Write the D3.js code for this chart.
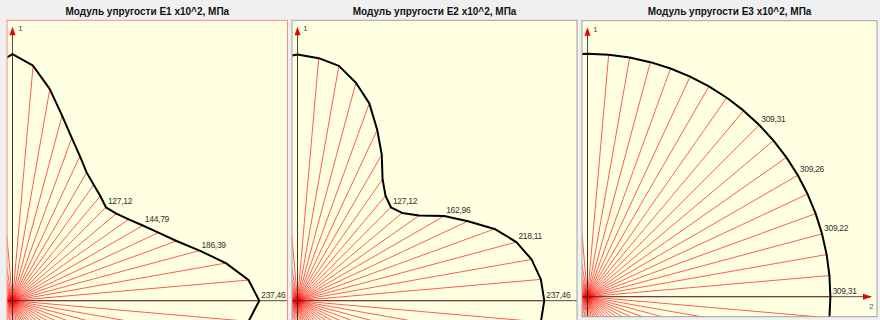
<!DOCTYPE html>
<html>
<head>
<meta charset="utf-8">
<script src="https://cdn.jsdelivr.net/npm/d3@7"></script>
<style>
  html, body { margin: 0; padding: 0; background: #f0f0f0; }
  svg { display: block; }
</style>
</head>
<body>
<svg id="chart" width="880" height="320"></svg>
<script>
// directions in degrees from axis 2 towards axis 1 (one quadrant, the rest is mirrored)
const angles = [0, 5, 10, 15, 20, 25, 30, 35, 40, 45, 50, 55, 60, 65, 70, 75, 80, 85, 90];

// elastic modulus x10^2, MPa, read per direction
const e1 = [237.46, 228.0, 208.5, 186.39, 168.0, 155.0, 144.79, 136.5, 130.5, 127.12,
            131.5, 136.2, 142.6, 153.5, 166.7, 184.4, 206.8, 227.0, 237.2];
const e2 = [237.46, 235.1, 228.7, 218.11, 201.8, 181.0, 162.96, 142.9, 131.4, 127.12,
            131.8, 142.7, 162.2, 181.5, 202.1, 217.2, 229.5, 234.3, 237.0];
const e3 = [309.31, 309.29, 309.25, 309.22, 309.22, 309.24, 309.26, 309.28, 309.30, 309.31,
            309.30, 309.28, 309.26, 309.24, 309.22, 309.22, 309.25, 309.29, 309.31];

const titles = [
    'Модуль упругости E1 x10^2, МПа',
    'Модуль упругости E2 x10^2, МПа',
    'Модуль упругости E3 x10^2, МПа'
];
const labelAngles = [0, 15, 30, 45];
const axisLabels = ['1', '2'];

const panels = [
    {values: e1, x0: 7, x1: 287.5, y0: 20.3, y1: 320.7, border: '#ff8a8a', arrowX: false},
    {values: e2, x0: 292, x1: 577, y0: 20.3, y1: 320.7, border: '#a0a0a0', arrowX: false},
    {values: e3, x0: 582, x1: 877, y0: 20.7, y1: 316.7, border: '#a0a0a0', arrowX: true}
];

const svg = d3.select('#chart');
const rad = (deg) => deg * Math.PI / 180;
const fmt = (v) => v.toFixed(2).replace('.', ',');

panels.forEach((p, i) => {
    // title above the plot
    svg.append('text')
        .text(titles[i])
        .attr('x', (p.x0 + p.x1) / 2)
        .attr('y', 15)
        .attr('text-anchor', 'middle')
        .style('font-family', '"Liberation Sans", Arial, sans-serif')
        .style('font-weight', 'bold')
        .style('font-size', '10px')
        .style('fill', '#111');

    svg.append('rect')
        .attr('x', p.x0).attr('y', p.y0)
        .attr('width', p.x1 - p.x0).attr('height', p.y1 - p.y0)
        .attr('fill', '#ffffe1')
        .attr('stroke', p.border)
        .attr('stroke-width', 1);

    const clipId = 'clip' + i;
    svg.append('clipPath').attr('id', clipId)
        .append('rect')
        .attr('x', p.x0 + 0.5).attr('y', p.y0 + 0.5)
        .attr('width', p.x1 - p.x0 - 1).attr('height', p.y1 - p.y0 - 1);

    const ox = p.x0 + 5.5;
    const oy = p.y1 - 20;
    const r = d3.scaleLinear()
        .domain([0, d3.max(p.values)])
        .range([0, 0.88 * (oy - p.y0)]);

    // whole turn: mirror the quadrant about both axes
    const full = [];
    for (let a = 0; a < 360; a += 5) {
        let b = a % 180;
        if (b > 90) b = 180 - b;
        full.push({angle: a, value: p.values[angles.indexOf(b)]});
    }
    const polar = (d) => d3.pointRadial(Math.PI / 2 - rad(d.angle), r(d.value));

    const g = svg.append('g')
        .attr('clip-path', `url(#${clipId})`)
        .append('g')
        .attr('transform', `translate(${ox},${oy})`);

    // rays
    g.selectAll('.ray')
        .data(full)
        .enter()
        .append('line')
        .attr('class', 'ray')
        .attr('x1', 0).attr('y1', 0)
        .attr('x2', (d) => polar(d)[0])
        .attr('y2', (d) => polar(d)[1])
        .attr('stroke', '#ff0000')
        .attr('stroke-width', 0.75)
        .attr('stroke-opacity', 0.85);

    // axes over the rays
    g.append('line')
        .attr('x1', p.x0 - ox).attr('x2', p.arrowX ? p.x1 - ox - 6 : p.x1 - ox)
        .attr('y1', 0).attr('y2', 0)
        .attr('stroke', '#2a2a2a').attr('stroke-width', 1)
        .attr('stroke-opacity', 0.85);
    g.append('line')
        .attr('x1', 0).attr('x2', 0)
        .attr('y1', p.y1 - oy).attr('y2', p.y0 - oy + 10)
        .attr('stroke', '#2a2a2a').attr('stroke-width', 1)
        .attr('stroke-opacity', 0.85);

    // the curve
    const line = d3.lineRadial()
        .angle((d) => Math.PI / 2 - rad(d.angle))
        .radius((d) => r(d.value))
        .curve(d3.curveLinearClosed);
    g.append('path')
        .attr('d', line(full))
        .attr('fill', 'none')
        .attr('stroke', '#000')
        .attr('stroke-width', 2)
        .attr('stroke-linejoin', 'round');

    // value labels
    g.selectAll('.val')
        .data(labelAngles.map((a) => ({angle: a, value: p.values[angles.indexOf(a)]})))
        .enter()
        .append('text')
        .attr('class', 'val')
        .text((d) => fmt(d.value))
        .attr('x', (d) => polar(d)[0] + 2)
        .attr('y', (d) => polar(d)[1] - 3)
        .style('font-family', '"Liberation Sans", Arial, sans-serif')
        .style('font-size', '8.5px')
        .style('letter-spacing', '-0.3px')
        .style('fill', '#333');

    // axis 1 arrow
    const top = p.y0 - oy;
    g.append('path')
        .attr('d', `M0,${top + 6.5}L3,${top + 15}L-3,${top + 15}Z`)
        .attr('fill', '#ee0000');
    g.append('text')
        .text(axisLabels[0])
        .attr('x', 6).attr('y', top + 11)
        .style('font-family', '"Liberation Sans", Arial, sans-serif')
        .style('font-size', '7px')
        .style('fill', '#333');

    if (p.arrowX) {
        const right = p.x1 - ox;
        g.append('path')
            .attr('d', `M${right - 5},0L${right - 14},-3L${right - 14},3Z`)
            .attr('fill', '#ee0000');
        g.append('text')
            .text(axisLabels[1])
            .attr('x', right - 8).attr('y', 12)
            .style('font-family', '"Liberation Sans", Arial, sans-serif')
            .style('font-size', '8px')
            .style('fill', '#555');
    }
});
</script>
</body>
</html>
